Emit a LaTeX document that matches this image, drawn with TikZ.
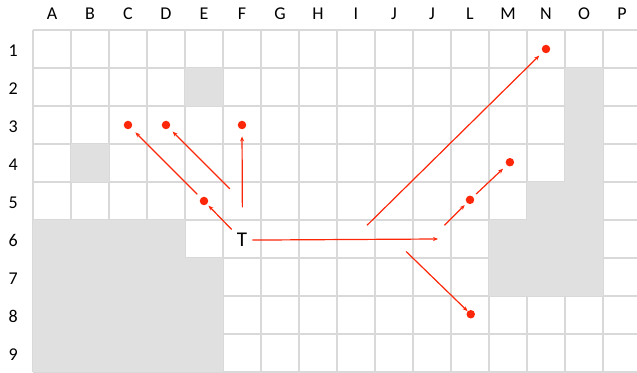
\documentclass[tikz,border=0pt]{standalone}
\usepackage{fontspec}
\setmainfont{Carlito}
\usetikzlibrary{arrows.meta}
\definecolor{moveRed}{RGB}{252,38,8}
\tikzset{
 board line/.style={draw=black!15,line width=1.4pt},
 board wall/.style={fill=black!12},
 board label/.style={font=\fontsize{18}{18}\selectfont,anchor=base,inner sep=0pt},
 board token/.style={font=\fontsize{21}{21}\selectfont,inner sep=5pt},
 move dot/.style={circle,fill=moveRed,minimum size=8.5pt,inner sep=0pt},
 move arrow/.style={-{Stealth[length=5pt,width=4pt]},line width=1.2pt,moveRed}
}

\begin{document}
\begin{tikzpicture}[x=38pt,y=-38pt]
 \useasboundingbox (-0.868,-0.789) rectangle (15.895,9.026);

 % grid
 \foreach \c in {0,...,16} \draw[board line] (\c,0)--(\c,9);
 \foreach \r in {0,...,9} \draw[board line] (0,\r)--(16,\r);

 % walls
 \fill[board wall] (4,1) rectangle (5,2);
 \fill[board wall] (1,3) rectangle (2,4);
 \fill[board wall] (14,1) rectangle (15,7);
 \fill[board wall] (13,4) rectangle (14,7);
 \fill[board wall] (12,5) rectangle (13,7);
 \fill[board wall] (0,5) rectangle (4,9);
 \fill[board wall] (4,6) rectangle (5,9);

 % column and row labels
 \foreach \l [count=\i] in {A,B,C,D,E,F,G,H,I,J,J,L,M,N,O,P}
  \node[board label] (col\i) at (\i-0.5,-0.289) {\l};
 \foreach \r in {1,...,9}
  \node[board label] (row\r) at (-0.52,\r-0.3) {\r};

 % token and targets
 \node[board token] (tok) at (5.5,5.53) {T};
 \node[move dot] (c3) at (2.5,2.5) {};
 \node[move dot] (d3) at (3.5,2.5) {};
 \node[move dot] (f3) at (5.5,2.5) {};
 \node[move dot] (e5) at (4.5,4.5) {};
 \node[move dot] (n1) at (13.5,0.5) {};
 \node[move dot] (m4) at (12.55,3.48) {};
 \node[move dot] (l5) at (11.5,4.47) {};
 \node[move dot] (l8) at (11.52,7.48) {};

 \coordinate (d5) at (5.18,4.18);
 \coordinate (f5) at (5.51,4.67);
 \coordinate (k6) at (10.66,5.5);
 \coordinate (i6) at (8.79,5.14);
 \coordinate (k6b) at (10.83,5.14);
 \coordinate (j7) at (9.82,5.83);

 % moves
 \draw[move arrow,shorten >=2pt] (tok) -- (e5);
 \draw[move arrow,shorten <=5pt,shorten >=6pt] (e5) -- (c3);
 \draw[move arrow,shorten >=5pt] (d5) -- (d3);
 \draw[move arrow,shorten >=7pt] (f5) -- (f3);
 \draw[move arrow] (tok) -- (k6);
 \draw[move arrow,shorten >=5pt] (i6) -- (n1);
 \draw[move arrow,shorten >=3pt] (k6b) -- (l5);
 \draw[move arrow,shorten <=4pt,shorten >=5pt] (l5) -- (m4);
 \draw[move arrow] (j7) -- (l8);
\end{tikzpicture}
\end{document}
